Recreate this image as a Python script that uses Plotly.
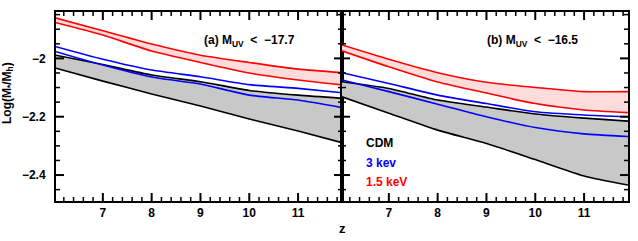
import plotly.graph_objects as go

z = [6.04, 7, 8, 9, 10, 11, 11.9]

# Panel (a) M_UV < -17.7
a_red_hi = [-1.862, -1.905, -1.951, -1.989, -2.014, -2.037, -2.049]
a_red_lo = [-1.878, -1.920, -1.975, -2.014, -2.050, -2.074, -2.091]
a_blue_hi = [-1.960, -2.003, -2.040, -2.063, -2.090, -2.103, -2.118]
a_blue_lo = [-1.977, -2.023, -2.064, -2.088, -2.126, -2.143, -2.169]
a_cdm_hi = [-1.989, -2.021, -2.057, -2.080, -2.110, -2.126, -2.137]
a_cdm_lo = [-2.034, -2.078, -2.122, -2.163, -2.208, -2.249, -2.289]

# Panel (b) M_UV < -16.5
b_red_hi = [-1.954, -2.003, -2.049, -2.082, -2.100, -2.114, -2.114]
b_red_lo = [-1.974, -2.029, -2.081, -2.119, -2.155, -2.177, -2.186]
b_blue_hi = [-2.049, -2.086, -2.126, -2.155, -2.183, -2.194, -2.200]
b_blue_lo = [-2.074, -2.114, -2.157, -2.200, -2.237, -2.259, -2.268]
b_cdm_hi = [-2.080, -2.103, -2.143, -2.167, -2.191, -2.205, -2.215]
b_cdm_lo = [-2.132, -2.188, -2.246, -2.292, -2.347, -2.403, -2.434]

# tick values
x_major = [7, 8, 9, 10, 11]
x_minor = [round(6.2 + 0.2 * i, 2) for i in range(29) if round(6.2 + 0.2 * i, 2) not in x_major]
y_major = [-2.4, -2.2, -2.0]
y_minor = [round(-2.45 + 0.05 * i, 2) for i in range(13) if round(-2.45 + 0.05 * i, 2) not in y_major]

panel_labels = ["(a) M<sub>UV</sub>  &lt;  \u221217.7", "(b) M<sub>UV</sub>  &lt;  \u221216.5"]
legend_names = ["CDM", "3 kev", "1.5 keV"]

BLACK = "#000000"
BLUE = "#0000ff"
RED = "#ff0000"
GREY_FILL = "#c8c8c8"
PINK_FILL = "#ffdcdc"
FONT = "Liberation Sans"
SHAPE = dict(shape="spline", smoothing=0.6)

W, H = 638, 241
ML, MR, MT, MB = 56, 10, 12, 40
xr = [6.04, 11.9]
yr = [-2.489, -1.841]
panel_px_w = (W - ML - MR) / 2
panel_px_h = H - MT - MB
x_per_px = (xr[1] - xr[0]) / panel_px_w
y_per_px = (yr[1] - yr[0]) / panel_px_h

fig = go.Figure()

def add_panel(xa, ya, red_hi, red_lo, blue_hi, blue_lo, cdm_hi, cdm_lo):
    for lo, hi, fc in [(cdm_lo, cdm_hi, GREY_FILL), (red_lo, red_hi, PINK_FILL)]:
        fig.add_trace(go.Scatter(x=z, y=lo, mode="lines", line=dict(width=0, **SHAPE),
                                 hoverinfo="skip", showlegend=False, xaxis=xa, yaxis=ya))
        fig.add_trace(go.Scatter(x=z, y=hi, mode="lines", line=dict(width=0, **SHAPE),
                                 fill="tonexty", fillcolor=fc,
                                 hoverinfo="skip", showlegend=False, xaxis=xa, yaxis=ya))
    for ys, c in [(cdm_hi, BLACK), (cdm_lo, BLACK), (blue_hi, BLUE), (blue_lo, BLUE),
                  (red_hi, RED), (red_lo, RED)]:
        fig.add_trace(go.Scatter(x=z, y=ys, mode="lines", line=dict(color=c, width=1.6, **SHAPE),
                                 showlegend=False, xaxis=xa, yaxis=ya))

def add_ticks(xa, ya):
    # inward tick marks on all four edges, built from the tick value lists
    for xv, yv, ln, w in [(x_major, y_major, 8, 2), (x_minor, y_minor, 4, 1.5)]:
        tx, ty = [], []
        for v in xv:
            tx += [v, v, None, v, v, None]
            ty += [yr[0], yr[0] + ln * y_per_px, None, yr[1], yr[1] - ln * y_per_px, None]
        for v in yv:
            tx += [xr[0], xr[0] + ln * x_per_px, None, xr[1], xr[1] - ln * x_per_px, None]
            ty += [v, v, None, v, v, None]
        fig.add_trace(go.Scatter(x=tx, y=ty, mode="lines", line=dict(color="black", width=w),
                                 hoverinfo="skip", showlegend=False, xaxis=xa, yaxis=ya))

add_panel("x", "y", a_red_hi, a_red_lo, a_blue_hi, a_blue_lo, a_cdm_hi, a_cdm_lo)
add_panel("x2", "y2", b_red_hi, b_red_lo, b_blue_hi, b_blue_lo, b_cdm_hi, b_cdm_lo)
add_ticks("x", "y")
add_ticks("x2", "y2")

tickfont = dict(family=FONT, size=12, color="black", weight="bold")
base = dict(showline=True, linecolor="black", linewidth=2, mirror=True,
            ticks="", showgrid=False, zeroline=False, automargin=False, tickfont=tickfont)

fig.update_layout(
    template="none",
    width=W, height=H,
    margin=dict(l=ML, r=MR, t=MT, b=MB),
    paper_bgcolor="white", plot_bgcolor="white",
    showlegend=False,
    xaxis=dict(domain=[0, 0.5], range=xr, tickmode="array", tickvals=x_major, **base),
    xaxis2=dict(domain=[0.5, 1], range=xr, tickmode="array", tickvals=x_major, **base),
    yaxis=dict(range=yr, tickmode="array", tickvals=y_major, anchor="x",
               ticklabelstandoff=6, **base),
    yaxis2=dict(range=yr, tickmode="array", tickvals=y_major, anchor="x2",
                showticklabels=False, **base),
)

ann_font = dict(family=FONT, size=12, color="black", weight="bold")
fig.add_annotation(x=9.03, y=-1.941, xref="x", yref="y", text=panel_labels[0],
                   showarrow=False, xanchor="left", yanchor="middle", font=ann_font)
fig.add_annotation(x=8.98, y=-1.941, xref="x2", yref="y2", text=panel_labels[1],
                   showarrow=False, xanchor="left", yanchor="middle", font=ann_font)

for name, c, yv in zip(legend_names, [BLACK, BLUE, RED], [-2.289, -2.357, -2.425]):
    fig.add_annotation(x=6.5, y=yv, xref="x2", yref="y2", text=name, showarrow=False,
                       xanchor="left", yanchor="middle",
                       font=dict(family=FONT, size=12, color=c, weight="bold"))

fig.add_annotation(x=0.5, y=-0.148, xref="paper", yref="paper", text="z", showarrow=False,
                   xanchor="center", yanchor="middle",
                   font=dict(family=FONT, size=13, color="black", weight="bold"))

fig.add_annotation(x=-0.084, y=0.571, xref="paper", yref="paper",
                   text="Log(M<sub>*</sub>/M<sub>h</sub>)", textangle=-90, showarrow=False,
                   xanchor="center", yanchor="middle",
                   font=dict(family=FONT, size=12, color="black", weight="bold"))

fig.write_html("out.html", config={"displayModeBar": False, "staticPlot": True},
               post_script="document.body.style.margin='0';document.body.style.padding='0';")
